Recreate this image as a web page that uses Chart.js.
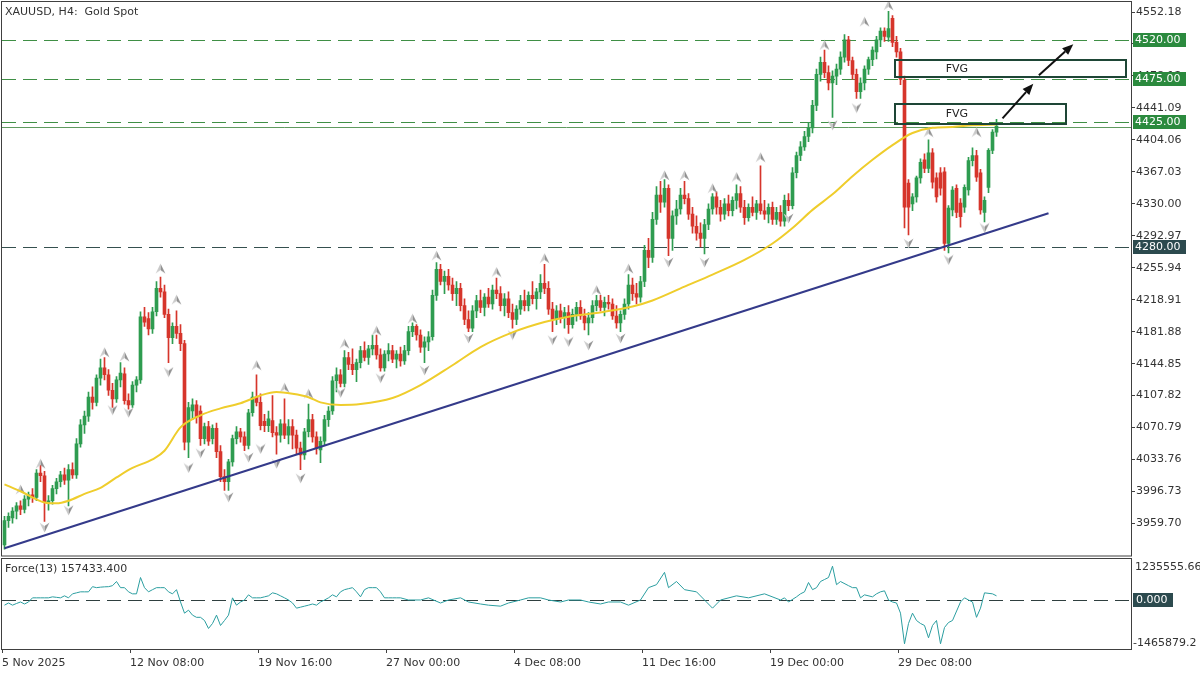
<!DOCTYPE html>
<html>
<head>
<meta charset="utf-8">
<title>XAUUSD H4</title>
<script src="https://cdn.jsdelivr.net/npm/chart.js@4.4.1/dist/chart.umd.min.js"></script>
<style>
  html, body { margin: 0; padding: 0; background: #fff; }
  #wrap { position: relative; width: 1200px; height: 675px; overflow: hidden; background: #fff; }
  canvas { position: absolute; left: 0; }
  #main { top: 0; }
  #force { top: 557px; }
</style>
</head>
<body>
<div id="wrap">
  <canvas id="main" width="1200" height="557"></canvas>
  <canvas id="force" width="1200" height="118"></canvas>
</div>
<script>
// bougies H4 (une valeur par barre)
const opens = [
  3935, 3963, 3966, 3974, 3980, 3976, 3988, 3993, 3990, 4018,
  4015, 3984, 3986, 4000, 4008, 4016, 4010, 4022, 4016, 4052,
  4074, 4084, 4106, 4100, 4128, 4140, 4132, 4114, 4104, 4126,
  4133, 4102, 4097, 4120, 4126, 4199, 4197, 4185, 4205, 4232,
  4228, 4202, 4175, 4188, 4180, 4168, 4054, 4090, 4097, 4090,
  4058, 4072, 4058, 4070, 4043, 4014, 4008, 4031, 4058, 4066,
  4060, 4050, 4088, 4106, 4100, 4078, 4073, 4079, 4065, 4062,
  4075, 4062, 4072, 4062, 4047, 4039, 4066, 4080, 4060, 4045,
  4055, 4080, 4090, 4125, 4132, 4122, 4152, 4144, 4138, 4146,
  4160, 4152, 4162, 4166, 4155, 4140, 4156, 4160, 4150, 4156,
  4148, 4160, 4182, 4188, 4178, 4164, 4170, 4176, 4224, 4254,
  4240, 4246, 4236, 4226, 4232, 4212, 4196, 4186, 4206, 4218,
  4210, 4222, 4214, 4230, 4226, 4212, 4220, 4204, 4196, 4208,
  4218, 4212, 4224, 4220, 4228, 4238, 4232, 4208, 4196, 4206,
  4198, 4204, 4190, 4202, 4210, 4200, 4192, 4198, 4212, 4218,
  4210, 4216, 4214, 4200, 4192, 4202, 4214, 4236, 4226, 4222,
  4240, 4276, 4268, 4312, 4340, 4332, 4348, 4290, 4316, 4324,
  4340, 4336, 4318, 4304, 4296, 4290, 4306, 4324, 4338, 4326,
  4318, 4330, 4322, 4334, 4342, 4326, 4314, 4326, 4320, 4330,
  4322, 4318, 4326, 4312, 4320, 4310, 4334, 4328, 4366, 4386,
  4396, 4408, 4418, 4444, 4480, 4494, 4482, 4470, 4478, 4486,
  4500, 4520, 4496, 4480, 4460, 4470, 4486, 4497, 4506, 4520,
  4530, 4523, 4545, 4517, 4506, 4473, 4354, 4330, 4338, 4360,
  4381, 4371, 4389, 4360, 4366, 4367, 4284, 4323, 4348, 4331,
  4326, 4346, 4380, 4386, 4366, 4320, 4349, 4392, 4413
];
const highs = [
  3968, 3972, 3978, 3984, 3986, 3992, 3996, 4000, 4022, 4030,
  4020, 3992, 4004, 4012, 4020, 4024, 4028, 4030, 4058, 4080,
  4090, 4112, 4118, 4132, 4150, 4152, 4138, 4122, 4130, 4146,
  4140, 4110, 4124, 4130, 4205, 4210, 4204, 4210, 4240, 4245,
  4236, 4208, 4192, 4206, 4190, 4172, 4100, 4104, 4102, 4096,
  4076, 4078, 4074, 4076, 4050, 4022, 4034, 4062, 4072, 4070,
  4066, 4092, 4112, 4132, 4110, 4086, 4090, 4108, 4072, 4080,
  4104, 4080, 4080, 4068, 4054, 4070, 4098, 4086, 4066, 4060,
  4085, 4095, 4130, 4140, 4138, 4160, 4158, 4162, 4150, 4165,
  4170, 4166, 4178, 4178, 4162, 4160, 4168, 4166, 4160, 4164,
  4166, 4188, 4192, 4190, 4184, 4176, 4182, 4230, 4262, 4260,
  4252, 4254, 4244, 4240, 4238, 4220, 4206, 4212, 4224, 4230,
  4226, 4232, 4236, 4244, 4234, 4226, 4228, 4214, 4212, 4224,
  4230, 4228, 4240, 4232, 4248, 4260, 4240, 4216, 4212, 4214,
  4210, 4212, 4208, 4216, 4218, 4208, 4204, 4218, 4224, 4224,
  4222, 4224, 4220, 4212, 4206, 4220, 4248, 4244, 4238, 4246,
  4282, 4290, 4320, 4350, 4356, 4358, 4352, 4322, 4334, 4348,
  4356, 4342, 4326, 4316, 4308, 4312, 4330, 4342, 4344, 4334,
  4336, 4340, 4338, 4352, 4350, 4334, 4330, 4338, 4334, 4374,
  4334, 4330, 4332, 4326, 4328, 4340, 4342, 4372, 4390, 4402,
  4414, 4424, 4450, 4486, 4500, 4508, 4490, 4484, 4492, 4506,
  4526, 4524, 4500, 4486, 4476, 4490, 4500, 4512, 4524, 4534,
  4534, 4553, 4548, 4524, 4510, 4478, 4358, 4342, 4362, 4382,
  4388, 4404, 4394, 4366, 4372, 4372, 4328, 4350, 4352, 4336,
  4352, 4384, 4395, 4392, 4370, 4338, 4394, 4416, 4428
];
const lows = [
  3930, 3955, 3960, 3965, 3970, 3972, 3980, 3984, 3986, 4008,
  3962, 3975, 3982, 3994, 4002, 4005, 3980, 4012, 4012, 4048,
  4064, 4078, 4092, 4096, 4120, 4126, 4108, 4094, 4100, 4118,
  4098, 4092, 4094, 4112, 4122, 4188, 4178, 4180, 4200, 4222,
  4198, 4146, 4168, 4174, 4160, 4045, 4036, 4080, 4076, 4050,
  4052, 4050, 4052, 4036, 4008, 3998, 3998, 4026, 4052, 4054,
  4044, 4046, 4084, 4096, 4068, 4066, 4066, 4060, 4040, 4054,
  4058, 4052, 4046, 4040, 4022, 4034, 4060, 4054, 4040, 4030,
  4050, 4072, 4086, 4112, 4118, 4118, 4138, 4132, 4124, 4140,
  4148, 4144, 4155, 4150, 4136, 4136, 4148, 4146, 4140, 4142,
  4144, 4155, 4176, 4172, 4158, 4146, 4160, 4172, 4218, 4236,
  4226, 4230, 4218, 4212, 4206, 4190, 4182, 4182, 4198, 4204,
  4200, 4210, 4208, 4220, 4206, 4200, 4198, 4186, 4190, 4202,
  4206, 4206, 4214, 4208, 4220, 4226, 4202, 4182, 4190, 4192,
  4186, 4180, 4186, 4194, 4196, 4184, 4178, 4192, 4206, 4206,
  4200, 4208, 4196, 4186, 4182, 4196, 4208, 4218, 4214, 4216,
  4234, 4256, 4262, 4306, 4320, 4326, 4270, 4276, 4306, 4318,
  4330, 4312, 4296, 4288, 4280, 4272, 4300, 4318, 4318, 4310,
  4312, 4316, 4316, 4324, 4320, 4306, 4310, 4316, 4312, 4318,
  4312, 4308, 4306, 4306, 4304, 4304, 4322, 4324, 4360, 4380,
  4392, 4402, 4412, 4438, 4472, 4476, 4462, 4430, 4468, 4480,
  4494, 4490, 4474, 4452, 4452, 4462, 4480, 4490, 4498, 4512,
  4518, 4518, 4512, 4500, 4468, 4302, 4294, 4322, 4332, 4354,
  4366, 4366, 4348, 4332, 4340, 4276, 4273, 4316, 4314, 4303,
  4320, 4340, 4374, 4356, 4318, 4309, 4343, 4388, 4408
];
const closes = [
  3963, 3968, 3974, 3980, 3976, 3988, 3993, 3990, 4018, 4015,
  3984, 3986, 4000, 4008, 4016, 4010, 4022, 4016, 4052, 4074,
  4084, 4106, 4100, 4128, 4140, 4132, 4114, 4104, 4126, 4134,
  4102, 4097, 4120, 4126, 4199, 4193, 4185, 4205, 4232, 4228,
  4202, 4175, 4188, 4180, 4168, 4054, 4094, 4097, 4083, 4058,
  4072, 4055, 4070, 4043, 4014, 4008, 4031, 4058, 4066, 4060,
  4050, 4088, 4106, 4100, 4073, 4073, 4081, 4065, 4062, 4075,
  4062, 4072, 4062, 4047, 4039, 4066, 4080, 4060, 4047, 4055,
  4080, 4090, 4125, 4132, 4122, 4152, 4144, 4138, 4146, 4160,
  4152, 4162, 4166, 4155, 4140, 4156, 4160, 4150, 4156, 4148,
  4160, 4182, 4188, 4178, 4164, 4170, 4176, 4224, 4254, 4240,
  4246, 4236, 4226, 4232, 4212, 4196, 4186, 4206, 4218, 4210,
  4222, 4214, 4230, 4226, 4212, 4220, 4204, 4196, 4208, 4218,
  4212, 4224, 4220, 4228, 4238, 4232, 4208, 4196, 4206, 4198,
  4204, 4190, 4202, 4210, 4200, 4192, 4198, 4212, 4218, 4210,
  4216, 4214, 4200, 4192, 4202, 4214, 4236, 4226, 4222, 4240,
  4276, 4268, 4312, 4340, 4332, 4348, 4290, 4316, 4324, 4340,
  4336, 4318, 4304, 4296, 4290, 4306, 4324, 4338, 4326, 4318,
  4330, 4322, 4334, 4342, 4326, 4314, 4326, 4320, 4330, 4322,
  4318, 4326, 4312, 4320, 4310, 4334, 4328, 4366, 4386, 4396,
  4408, 4418, 4444, 4480, 4494, 4482, 4470, 4478, 4486, 4500,
  4520, 4496, 4480, 4460, 4470, 4486, 4497, 4508, 4520, 4530,
  4524, 4533, 4517, 4506, 4474, 4326, 4326, 4338, 4360, 4378,
  4371, 4389, 4355, 4338, 4348, 4284, 4325, 4346, 4320, 4315,
  4349, 4380, 4386, 4361, 4323, 4334, 4392, 4413, 4420
];

// moyenne mobile (jaune) : points relevés le long de la courbe
const maIdx = [0, 4, 10, 13, 16, 20, 24, 28, 32, 37, 40, 44, 49, 54, 59, 64, 68, 72, 76, 79,
  84, 89, 97, 104, 112, 119, 127, 135, 142, 150, 157, 162, 170, 177, 185, 192, 197, 202, 207, 212,
  217, 222, 227, 232, 237, 242, 248];
const maVal = [4005, 3997, 3984, 3983, 3986, 3994, 4001, 4013, 4024, 4034, 4044, 4071, 4085, 4093, 4099, 4108, 4112, 4110, 4106, 4100,
  4097, 4098, 4105, 4120, 4143, 4164, 4181, 4193, 4200, 4205, 4211, 4218, 4234, 4248, 4265, 4284, 4302, 4323, 4341, 4362,
  4381, 4398, 4412, 4418, 4419, 4421, 4422];

// ligne de tendance (bleu foncé)
const trendIdx = [0, 261];
const trendVal = [3931, 4319];

// fractales (flèches grises)
const upIdx = [4, 9, 25, 30, 39, 43, 63, 70, 76, 85, 93, 102, 108, 123, 135, 148, 156, 165, 170, 177, 183, 189, 205, 215, 221, 231, 243];
const upVal = [3999, 4029, 4158, 4153, 4255, 4219, 4143, 4117, 4110, 4168, 4183, 4197, 4270, 4251, 4267, 4230, 4255, 4363, 4363, 4348, 4361, 4384, 4514, 4541, 4560, 4413, 4413];
const dnIdx = [10, 16, 27, 31, 41, 46, 49, 56, 61, 64, 68, 74, 84, 94, 105, 116, 127, 137, 141, 146, 154, 166, 175, 196, 207, 213, 226, 236, 245];
const dnVal = [3955, 3975, 4091, 4088, 4135, 4024, 4041, 3990, 4036, 4046, 4029, 4012, 4111, 4128, 4137, 4174, 4178, 4172, 4170, 4166, 4174, 4262, 4262, 4313, 4421, 4441, 4284, 4265, 4302];

// niveaux horizontaux
const levelVals = [4520, 4475, 4425, 4280];
const bidPrice = 4419;

// zones FVG et flèches
const fvgFrom = [222.6, 222.6];
const fvgTo = [280.4, 265.4];
const fvgTop = [4497, 4446];
const fvgBottom = [4477, 4422];
const fvgTextIdx = 238.1;
const arrowFromIdx = [249.5, 258.6];
const arrowFromVal = [4429, 4479];
const arrowToIdx = [257.2, 267.2];
const arrowToVal = [4469, 4515];

// indicateur Force(13)
const forceIdx = [
  0, 1, 2, 3, 4, 5, 6, 7, 8, 9, 10, 11, 12, 13, 14, 15, 16, 17, 18, 19,
  20, 21, 22, 23, 24, 25, 26, 27, 28, 29, 30, 31, 32, 33, 34, 35, 36, 37, 38, 39,
  40, 41, 42, 43, 44, 45, 46, 47, 48, 49, 50, 51, 52, 53, 54, 55, 56, 57, 58, 59,
  60, 61, 62, 63, 64, 65, 66, 67, 68, 69, 70, 71, 72, 73, 74, 75, 76, 77, 78, 79,
  80, 81, 82, 83, 84, 85, 86, 87, 88, 89, 90, 91, 92, 93, 94, 95, 96, 97, 98, 99,
  101, 104, 106, 109, 111, 114, 116, 119, 121, 124, 126, 129, 131, 134, 136, 139, 141, 144, 146, 149,
  151, 154, 156, 159, 161, 163, 165, 166, 168, 170, 173, 175, 177, 179, 183, 186, 190, 194,
  195, 196, 198, 199, 200, 201, 202, 203, 204, 205, 206, 207, 208, 209, 211, 212, 213, 214, 215, 217,
  218, 219, 220, 221, 222, 223, 224, 225, 226, 227, 228, 229, 230, 231, 232, 233, 234, 235, 236, 237,
  239, 240, 241, 242, 243, 244, 245, 247, 248
];
const forceVal = [
  -150000, -85000, -150000, -100000, -55000, -115000, -55000, 70000, 70000, 70000,
  70000, 70000, 100000, 85000, 70000, 130000, 70000, 190000, 220000, 250000,
  250000, 250000, 405000, 375000, 390000, 400000, 405000, 435000, 560000, 375000,
  375000, 250000, 190000, 190000, 680000, 375000, 250000, 315000, 375000, 375000,
  375000, 250000, 190000, 315000, -55000, -390000, -300000, -450000, -515000, -515000,
  -610000, -850000, -700000, -450000, -760000, -610000, -450000, 70000, -150000, -55000,
  5000, 160000, 70000, 70000, 70000, 100000, 130000, 220000, 190000, 130000,
  70000, 5000, -85000, -240000, -210000, -180000, -150000, -115000, -150000, -55000,
  5000, 70000, 160000, 100000, 250000, 315000, 345000, 375000, 250000, 100000,
  315000, 375000, 375000, 375000, 250000, 70000, 70000, 70000, 70000, 70000,
  5000, 5000, 70000, -85000, 5000, 70000, -55000, -115000, -150000, -180000,
  -85000, 5000, 70000, 70000, 5000, -55000, 5000, 5000, -55000, -115000,
  -55000, -55000, -150000, 5000, 375000, 465000, 835000, 375000, 560000, 315000,
  250000, 5000, -240000, 5000, 130000, 70000, 190000, 5000,
  70000, -55000, 100000, 190000, 250000, 530000, 315000, 375000, 560000, 620000,
  680000, 1020000, 465000, 560000, 435000, 375000, 375000, 70000, 160000, 100000,
  190000, 250000, 280000, 5000, -55000, -85000, -390000, -1310000, -700000, -390000,
  -610000, -700000, -760000, -1130000, -760000, -610000, -1310000, -820000, -670000, -610000,
  -55000, 70000, 5000, -55000, -515000, -240000, 220000, 190000, 130000
];

// axes
const xTickPos = [0, 32, 64, 96, 128, 160, 192, 224];
const xTickLabels = ['5 Nov 2025', '12 Nov 08:00', '19 Nov 16:00', '27 Nov 00:00', '4 Dec 08:00', '11 Dec 16:00', '19 Dec 00:00', '29 Dec 08:00'];
const yTickVals = [4552.18, 4515.15, 4478.12, 4441.09, 4404.06, 4367.03, 4330.00, 4292.97, 4255.94, 4218.91,
  4181.88, 4144.85, 4107.82, 4070.79, 4033.76, 3996.73, 3959.70];

// ----- style -----
const FONT = 'Tahoma, "DejaVu Sans", sans-serif';
Chart.defaults.font.family = FONT;
Chart.defaults.font.size = 11;
Chart.defaults.color = '#333';

const X_MIN = -0.625;
const X_MAX = X_MIN + 1129 / 4;
const GREEN = '#2e9c50';
const RED = '#d6352b';
const AXIS = '#404040';
const LEVEL_LINE = ['#3f8f45', '#3f8f45', '#3f8f45', '#35504f'];
const LEVEL_BOX = ['#2b8a3e', '#2b8a3e', '#2b8a3e', '#2c4a4e'];

const idx = opens.map((o, i) => i);
const candleColors = idx.map((i) => (closes[i] >= opens[i] ? GREEN : RED));

// petite flèche grise façon fractale MT5
function fractalImage(up) {
  const c = document.createElement('canvas');
  c.width = 11;
  c.height = 11;
  const g = c.getContext('2d');
  g.beginPath();
  if (up) {
    g.moveTo(5.5, 0.5); g.lineTo(10.5, 10.5); g.lineTo(5.5, 7); g.lineTo(0.5, 10.5);
  } else {
    g.moveTo(5.5, 10.5); g.lineTo(10.5, 0.5); g.lineTo(5.5, 4); g.lineTo(0.5, 0.5);
  }
  g.closePath();
  const grad = g.createLinearGradient(0, 0, 11, 0);
  grad.addColorStop(0, '#dadada');
  grad.addColorStop(0.5, '#c4c4c4');
  grad.addColorStop(0.52, '#8c8c8c');
  grad.addColorStop(1, '#a4a4a4');
  g.fillStyle = grad;
  g.fill();
  return c;
}

const mainDecor = {
  id: 'mainDecor',
  beforeDatasetsDraw(chart) {
    const { ctx, chartArea: a, scales: { y } } = chart;
    ctx.save();
    ctx.lineWidth = 1;
    ctx.setLineDash([14, 7]);
    levelVals.forEach((v, k) => {
      const py = Math.round(y.getPixelForValue(v)) + 0.5;
      ctx.strokeStyle = LEVEL_LINE[k];
      ctx.beginPath(); ctx.moveTo(a.left, py); ctx.lineTo(a.right, py); ctx.stroke();
    });
    ctx.setLineDash([]);
    const by = Math.round(y.getPixelForValue(bidPrice)) + 0.5;
    ctx.strokeStyle = '#5f9a5f';
    ctx.beginPath(); ctx.moveTo(a.left, by); ctx.lineTo(a.right, by); ctx.stroke();
    ctx.restore();
  },
  afterDatasetsDraw(chart) {
    const { ctx, scales: { x, y } } = chart;
    ctx.save();
    // boîtes FVG
    ctx.lineWidth = 2;
    ctx.strokeStyle = '#1e4636';
    ctx.font = '11px ' + FONT;
    ctx.textAlign = 'center';
    ctx.textBaseline = 'middle';
    fvgFrom.forEach((f, k) => {
      const x0 = Math.round(x.getPixelForValue(f));
      const x1 = Math.round(x.getPixelForValue(fvgTo[k]));
      const y0 = Math.round(y.getPixelForValue(fvgTop[k]));
      const y1 = Math.round(y.getPixelForValue(fvgBottom[k]));
      ctx.strokeRect(x0, y0, x1 - x0, y1 - y0);
      ctx.fillStyle = '#222';
      ctx.fillText('FVG', x.getPixelForValue(fvgTextIdx), (y0 + y1) / 2 + 0.5);
    });
    // flèches noires
    ctx.strokeStyle = '#111';
    ctx.fillStyle = '#111';
    ctx.lineWidth = 2;
    arrowFromIdx.forEach((f, k) => {
      const x0 = x.getPixelForValue(f);
      const y0 = y.getPixelForValue(arrowFromVal[k]);
      const x1 = x.getPixelForValue(arrowToIdx[k]);
      const y1 = y.getPixelForValue(arrowToVal[k]);
      const ang = Math.atan2(y1 - y0, x1 - x0);
      const hl = 11;
      const hw = 4.5;
      const bx = x1 - hl * Math.cos(ang);
      const bY = y1 - hl * Math.sin(ang);
      ctx.beginPath(); ctx.moveTo(x0, y0); ctx.lineTo(bx, bY); ctx.stroke();
      ctx.beginPath();
      ctx.moveTo(x1, y1);
      ctx.lineTo(bx + hw * Math.sin(ang), bY - hw * Math.cos(ang));
      ctx.lineTo(bx - hw * Math.sin(ang), bY + hw * Math.cos(ang));
      ctx.closePath();
      ctx.fill();
    });
    ctx.restore();
  },
  afterDraw(chart) {
    const { ctx, chartArea: a, scales: { y } } = chart;
    ctx.save();
    ctx.font = '11px ' + FONT;
    ctx.textBaseline = 'middle';
    ctx.textAlign = 'left';
    // étiquettes des niveaux sur l'axe
    levelVals.forEach((v, k) => {
      const py = Math.round(y.getPixelForValue(v));
      ctx.fillStyle = LEVEL_BOX[k];
      ctx.fillRect(a.right + 2, py - 7, 53, 14);
      ctx.fillStyle = '#fff';
      ctx.fillText(v.toFixed(2), a.right + 4, py + 0.5);
    });
    // titre
    ctx.fillStyle = '#333';
    ctx.fillText('XAUUSD, H4:  Gold Spot', 5, 12);
    // cadre
    ctx.strokeStyle = AXIS;
    ctx.lineWidth = 1;
    ctx.strokeRect(a.left - 0.5, a.top - 0.5, a.right - a.left + 1, a.bottom - a.top + 1);
    ctx.restore();
  }
};

const forceDecor = {
  id: 'forceDecor',
  beforeDatasetsDraw(chart) {
    const { ctx, chartArea: a, scales: { y } } = chart;
    ctx.save();
    const py = Math.round(y.getPixelForValue(0)) + 0.5;
    ctx.strokeStyle = '#2f3f3f';
    ctx.lineWidth = 1;
    ctx.setLineDash([14, 7]);
    ctx.beginPath(); ctx.moveTo(a.left, py); ctx.lineTo(a.right, py); ctx.stroke();
    ctx.restore();
  },
  afterDraw(chart) {
    const { ctx, chartArea: a, scales: { y } } = chart;
    ctx.save();
    ctx.font = '11px ' + FONT;
    ctx.textBaseline = 'middle';
    ctx.textAlign = 'left';
    ctx.fillStyle = '#333';
    ctx.fillText('Force(13) 157433.400', 5, 12);
    ctx.fillText('1235555.66', a.right + 4, 10);
    ctx.fillText('-1465879.2', a.right + 2, 86);
    const py = Math.round(y.getPixelForValue(0));
    ctx.fillStyle = '#2c4a4e';
    ctx.fillRect(a.right + 2, py - 7, 40, 14);
    ctx.fillStyle = '#fff';
    ctx.fillText('0.000', a.right + 5, py + 0.5);
    ctx.strokeStyle = AXIS;
    ctx.lineWidth = 1;
    ctx.strokeRect(a.left - 0.5, a.top - 0.5, a.right - a.left + 1, a.bottom - a.top + 1);
    ctx.restore();
  }
};

const upImg = fractalImage(true);
const dnImg = fractalImage(false);

new Chart(document.getElementById('main'), {
  type: 'bar',
  data: {
    datasets: [
      {
        // mèches
        type: 'bar',
        data: idx.map((i) => ({ x: i, y: [lows[i], highs[i]] })),
        backgroundColor: candleColors,
        barThickness: 1,
        grouped: false,
        order: 6,
      },
      {
        // corps
        type: 'bar',
        data: idx.map((i) => ({ x: i, y: [opens[i], closes[i]] })),
        backgroundColor: candleColors,
        barThickness: 3,
        minBarLength: 1,
        grouped: false,
        order: 5,
      },
      {
        type: 'scatter',
        data: upIdx.map((v, k) => ({ x: v, y: upVal[k] })),
        pointStyle: upImg,
        order: 4,
      },
      {
        type: 'scatter',
        data: dnIdx.map((v, k) => ({ x: v, y: dnVal[k] })),
        pointStyle: dnImg,
        order: 4,
      },
      {
        type: 'line',
        data: maIdx.map((v, k) => ({ x: v, y: maVal[k] })),
        borderColor: '#efcd2c',
        borderWidth: 2,
        pointRadius: 0,
        cubicInterpolationMode: 'monotone',
        order: 3,
      },
      {
        type: 'line',
        data: trendIdx.map((v, k) => ({ x: v, y: trendVal[k] })),
        borderColor: '#343a8a',
        borderWidth: 2,
        pointRadius: 0,
        order: 2,
      },
    ],
  },
  options: {
    responsive: false,
    animation: false,
    devicePixelRatio: 1,
    layout: { autoPadding: false, padding: { left: 2, top: 2, right: 0, bottom: 1.5 } },
    plugins: { legend: { display: false }, tooltip: { enabled: false } },
    scales: {
      x: { type: 'linear', min: X_MIN, max: X_MAX, offset: false, display: false },
      y: {
        type: 'linear',
        position: 'right',
        min: 3922.6,
        max: 4563.8,
        afterBuildTicks: (s) => { s.ticks = yTickVals.map((v) => ({ value: v })); },
        afterFit: (s) => { s.width = 69; s.paddingTop = 0; s.paddingBottom = 0; },
        grid: { drawOnChartArea: false, tickLength: 4, color: AXIS },
        border: { color: AXIS },
        ticks: { padding: 1, color: '#333', callback: (v) => Number(v).toFixed(2) },
      },
    },
  },
  plugins: [mainDecor],
});

new Chart(document.getElementById('force'), {
  type: 'line',
  data: {
    datasets: [{
      data: forceIdx.map((v, k) => ({ x: v, y: forceVal[k] })),
      borderColor: '#2b9ea0',
      borderWidth: 1,
      pointRadius: 0,
    }],
  },
  options: {
    responsive: false,
    animation: false,
    devicePixelRatio: 1,
    layout: { autoPadding: false, padding: { left: 2, top: 2, right: 0, bottom: 0 } },
    plugins: { legend: { display: false }, tooltip: { enabled: false } },
    scales: {
      x: {
        type: 'linear',
        min: X_MIN,
        max: X_MAX,
        afterBuildTicks: (s) => { s.ticks = xTickPos.map((p) => ({ value: p + X_MIN })); },
        afterFit: (s) => { s.height = 26; s.paddingLeft = 0; s.paddingRight = 0; },
        grid: { drawOnChartArea: false, tickLength: 4, color: AXIS },
        border: { color: AXIS },
        ticks: { autoSkip: false, maxRotation: 0, align: 'start', padding: 4, color: '#333',
          callback: (v, k) => xTickLabels[k] },
      },
      y: {
        type: 'linear',
        position: 'right',
        min: -1465879.2,
        max: 1235555.66,
        afterFit: (s) => { s.width = 69; s.paddingTop = 0; s.paddingBottom = 0; },
        grid: { display: false },
        border: { color: AXIS },
        ticks: { display: false },
      },
    },
  },
  plugins: [forceDecor],
});
</script>
</body>
</html>
